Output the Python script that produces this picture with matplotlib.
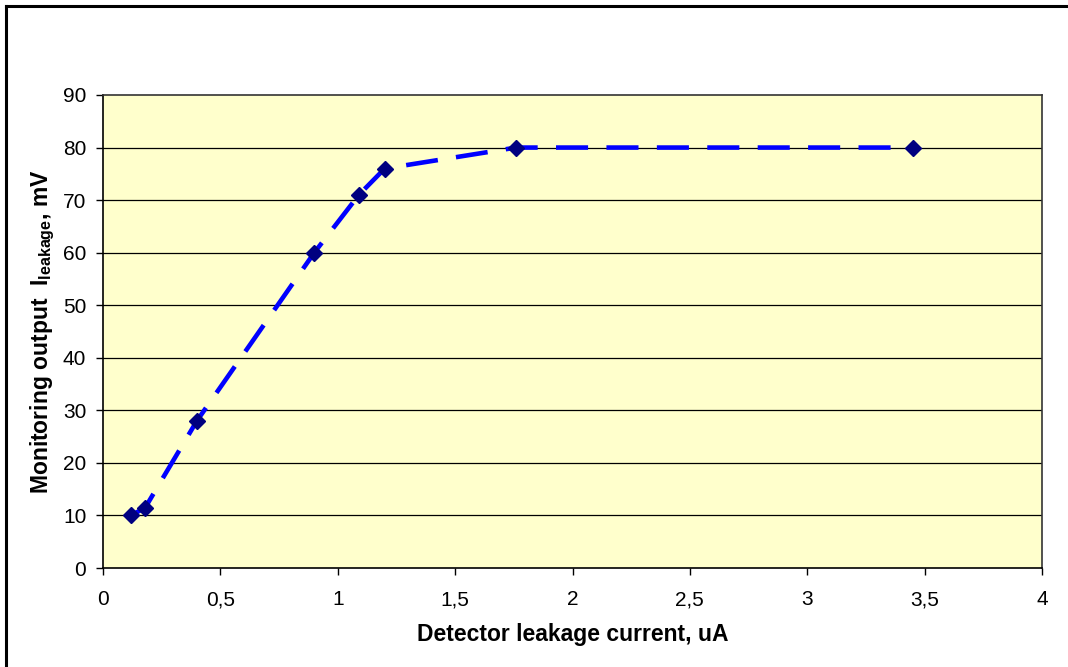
import matplotlib.pyplot as plt
from matplotlib.lines import Line2D

plt.rcParams['font.family'] = ['Liberation Sans', 'DejaVu Sans']
plt.rcParams['mathtext.fontset'] = 'custom'
plt.rcParams['mathtext.rm'] = 'Liberation Sans'
plt.rcParams['mathtext.bf'] = 'Liberation Sans:bold'

# data
current_ua = [0.12, 0.18, 0.40, 0.90, 1.09, 1.20, 1.76, 3.45]
output_mv = [10, 11.5, 28, 60, 71, 76, 80, 80]
x_ticks = [0, 0.5, 1, 1.5, 2, 2.5, 3, 3.5, 4]
x_ticklabels = ['0', '0,5', '1', '1,5', '2', '2,5', '3', '3,5', '4']
y_ticks = [0, 10, 20, 30, 40, 50, 60, 70, 80, 90]

fig = plt.figure(figsize=(10.68, 6.67), dpi=100, facecolor='w')
ax = fig.add_axes([103 / 1068, 1 - 568 / 667, 939 / 1068, 473 / 667])
ax.set_facecolor('#FFFFCC')

for y in y_ticks[1:-1]:
    ax.axhline(y, color='black', lw=0.9, zorder=1)

ax.plot(current_ua, output_mv, color='#0000FF', lw=3.3,
        linestyle=(0, (7, 4)), zorder=3)
ax.plot(current_ua, output_mv, linestyle='none', marker='D', ms=8.5,
        color='#000080', zorder=4)

ax.set_xlim(0, 4)
ax.set_ylim(0, 90)
ax.set_xticks(x_ticks)
ax.set_xticklabels(x_ticklabels)
ax.set_yticks(y_ticks)
ax.tick_params(direction='out', length=5, width=1, labelsize=15)
ax.tick_params(axis='x', pad=11)
ax.tick_params(axis='y', pad=7)

for s in ['top', 'right']:
    ax.spines[s].set_color('#333333')
for s in ax.spines.values():
    s.set_linewidth(1.2)

ax.set_xlabel('Detector leakage current, uA', fontsize=16.5, fontweight='bold',
              labelpad=10)
ax.set_ylabel(r'Monitoring output  I$_{\mathbf{leakage}}$, mV', fontsize=16.5,
              fontweight='bold', labelpad=4)

# figure border (left and top edges visible in the reference)
fig.add_artist(Line2D([6 / 1068, 6 / 1068], [0, 1 - 6 / 667], color='black',
                      lw=2.2, transform=fig.transFigure))
fig.add_artist(Line2D([6 / 1068, 1], [1 - 6 / 667, 1 - 6 / 667], color='black',
                      lw=2.2, transform=fig.transFigure))

fig.savefig('out.png', dpi=100)
